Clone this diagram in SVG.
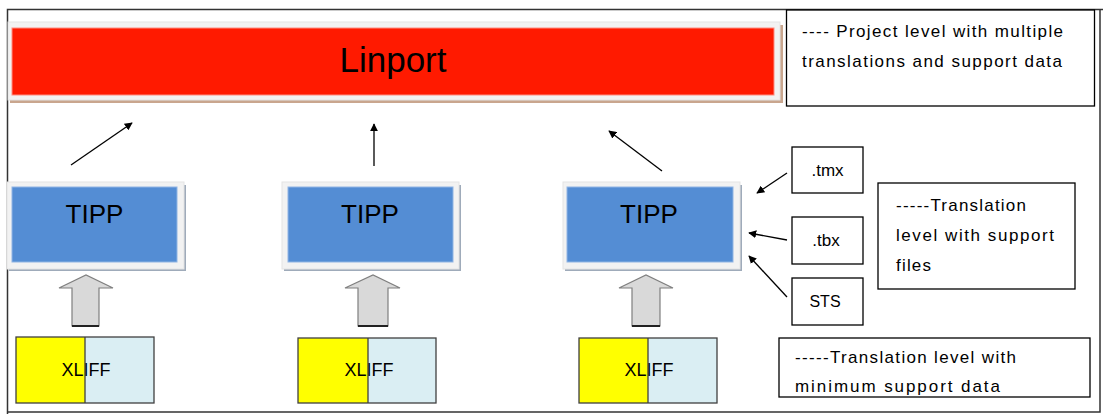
<svg xmlns="http://www.w3.org/2000/svg" width="1103" height="414" viewBox="0 0 1103 414">
<defs>
<style>
.frame{fill:#f2f2f2;stroke:#e4e4e4;stroke-width:1}
.tipp{fill:#548dd4;stroke:#8fb4e3;stroke-width:1}
.tshadow{fill:#9fabba}
.lbl{font-family:"Liberation Sans",Arial,sans-serif;fill:#000}
.box{fill:#fff;stroke:#000;stroke-width:1.3}
.note{font-family:"Liberation Sans",Arial,sans-serif;font-size:17px;fill:#000}
.big{fill:#d9d9d9;stroke:#7f7f7f;stroke-width:1.2}
.line{stroke:#000;stroke-width:1.3;fill:none}
</style>
<marker id="ah" viewBox="0 0 10 10" refX="9" refY="5" markerWidth="8" markerHeight="8" markerUnits="userSpaceOnUse" orient="auto"><path d="M0,0 L10,5 L0,10 Z" fill="#000"/></marker>
</defs>
<rect width="1103" height="414" fill="#fff"/>
<path d="M1103,9.5 H7.5 V414 M7.5,412 H1100 V9.5" fill="none" stroke="#333" stroke-width="1.5"/>

<g id="linport">
<rect x="10" y="25" width="773" height="78" fill="#c9a68e"/>
<rect x="8" y="22" width="772" height="78" class="frame"/>
<rect x="12" y="28" width="762" height="67" fill="#ff1a00" stroke="#ff8c80" stroke-width="1"/>
<text x="393" y="72" class="lbl" font-size="35" text-anchor="middle">Linport</text>
</g>

<g id="note-project">
<rect x="786.5" y="10" width="308" height="96" class="box"/>
<text x="802" y="37" class="note" textLength="261" lengthAdjust="spacing">---- Project level with multiple</text>
<text x="802" y="67" class="note" textLength="260" lengthAdjust="spacing">translations and support data</text>
</g>

<g id="tipp1">
<rect x="9" y="185" width="177" height="86" class="tshadow"/>
<rect x="7" y="182" width="177" height="87" class="frame"/>
<rect x="12" y="187" width="165" height="75" class="tipp"/>
<text x="94.5" y="223" class="lbl" font-size="26" text-anchor="middle">TIPP</text>
</g>
<g id="tipp2">
<rect x="284" y="185" width="177" height="86" class="tshadow"/>
<rect x="282" y="182" width="177" height="87" class="frame"/>
<rect x="288" y="187" width="165" height="75" class="tipp"/>
<text x="370" y="223" class="lbl" font-size="26" text-anchor="middle">TIPP</text>
</g>
<g id="tipp3">
<rect x="565" y="185" width="177" height="86" class="tshadow"/>
<rect x="563" y="182" width="177" height="87" class="frame"/>
<rect x="567" y="187" width="166" height="75" class="tipp"/>
<text x="649" y="223" class="lbl" font-size="26" text-anchor="middle">TIPP</text>
</g>

<g id="xliff1">
<rect x="16" y="337" width="69" height="66" fill="#ffff00"/>
<rect x="85" y="337" width="69" height="66" fill="#daeef3"/>
<text x="86" y="376" class="lbl" font-size="18" text-anchor="middle">XLIFF</text>
<rect x="16" y="337" width="138" height="66" fill="none" stroke="#404040" stroke-width="1.3"/>
<line x1="85" y1="337" x2="85" y2="403" stroke="#404040" stroke-width="1.3"/>
</g>
<g id="xliff2">
<rect x="298" y="338" width="70" height="65" fill="#ffff00"/>
<rect x="368" y="338" width="68" height="65" fill="#daeef3"/>
<text x="369" y="376" class="lbl" font-size="18" text-anchor="middle">XLIFF</text>
<rect x="298" y="338" width="138" height="65" fill="none" stroke="#404040" stroke-width="1.3"/>
<line x1="368" y1="338" x2="368" y2="403" stroke="#404040" stroke-width="1.3"/>
</g>
<g id="xliff3">
<rect x="579" y="338" width="69" height="65" fill="#ffff00"/>
<rect x="648" y="338" width="69" height="65" fill="#daeef3"/>
<text x="649" y="376" class="lbl" font-size="18" text-anchor="middle">XLIFF</text>
<rect x="579" y="338" width="138" height="65" fill="none" stroke="#404040" stroke-width="1.3"/>
<line x1="648" y1="338" x2="648" y2="403" stroke="#404040" stroke-width="1.3"/>
</g>

<g id="file-tmx">
<rect x="792" y="147" width="71" height="46" class="box"/>
<text x="827.5" y="176" class="lbl" font-size="17" text-anchor="middle">.tmx</text>
</g>
<g id="file-tbx">
<rect x="792" y="217" width="71" height="47" class="box"/>
<text x="826" y="246" class="lbl" font-size="17" text-anchor="middle">.tbx</text>
</g>
<g id="file-sts">
<rect x="792" y="278" width="71" height="47" class="box"/>
<text x="825" y="307" class="lbl" font-size="16" text-anchor="middle">STS</text>
</g>

<g id="note-translation">
<rect x="878" y="183" width="197" height="106" class="box"/>
<text x="896" y="211" class="note" textLength="130" lengthAdjust="spacing">-----Translation</text>
<text x="896" y="241" class="note" textLength="158" lengthAdjust="spacing">level with support</text>
<text x="896" y="271" class="note" textLength="35" lengthAdjust="spacing">files</text>
</g>

<g id="note-xliff">
<rect x="779" y="338" width="311" height="59" class="box"/>
<text x="795" y="363" class="note" textLength="221" lengthAdjust="spacing">-----Translation level with</text>
<text x="795" y="392" class="note" textLength="205" lengthAdjust="spacing">minimum support data</text>
</g>

<g id="connectors">
<line x1="71" y1="165" x2="132" y2="123" class="line" marker-end="url(#ah)"/>
<line x1="374" y1="166" x2="374" y2="124" class="line" marker-end="url(#ah)"/>
<line x1="662" y1="171" x2="609" y2="131" class="line" marker-end="url(#ah)"/>
<line x1="787" y1="173" x2="757" y2="193" class="line" marker-end="url(#ah)"/>
<line x1="787" y1="240" x2="749" y2="233" class="line" marker-end="url(#ah)"/>
<line x1="787" y1="297" x2="749" y2="256" class="line" marker-end="url(#ah)"/>
<path d="M72,326 V288 H59 L86,275 L113,288 H99 V326 Z" class="big"/>
<line x1="72" y1="326" x2="99" y2="326" stroke="#222" stroke-width="2"/>
<path d="M358,326 V288 H345 L373,275 L400,288 H388 V326 Z" class="big"/>
<line x1="358" y1="326" x2="388" y2="326" stroke="#222" stroke-width="2"/>
<path d="M632,326 V288 H619 L646,275 L673,288 H660 V326 Z" class="big"/>
<line x1="632" y1="326" x2="660" y2="326" stroke="#222" stroke-width="2"/>
</g>
</svg>
